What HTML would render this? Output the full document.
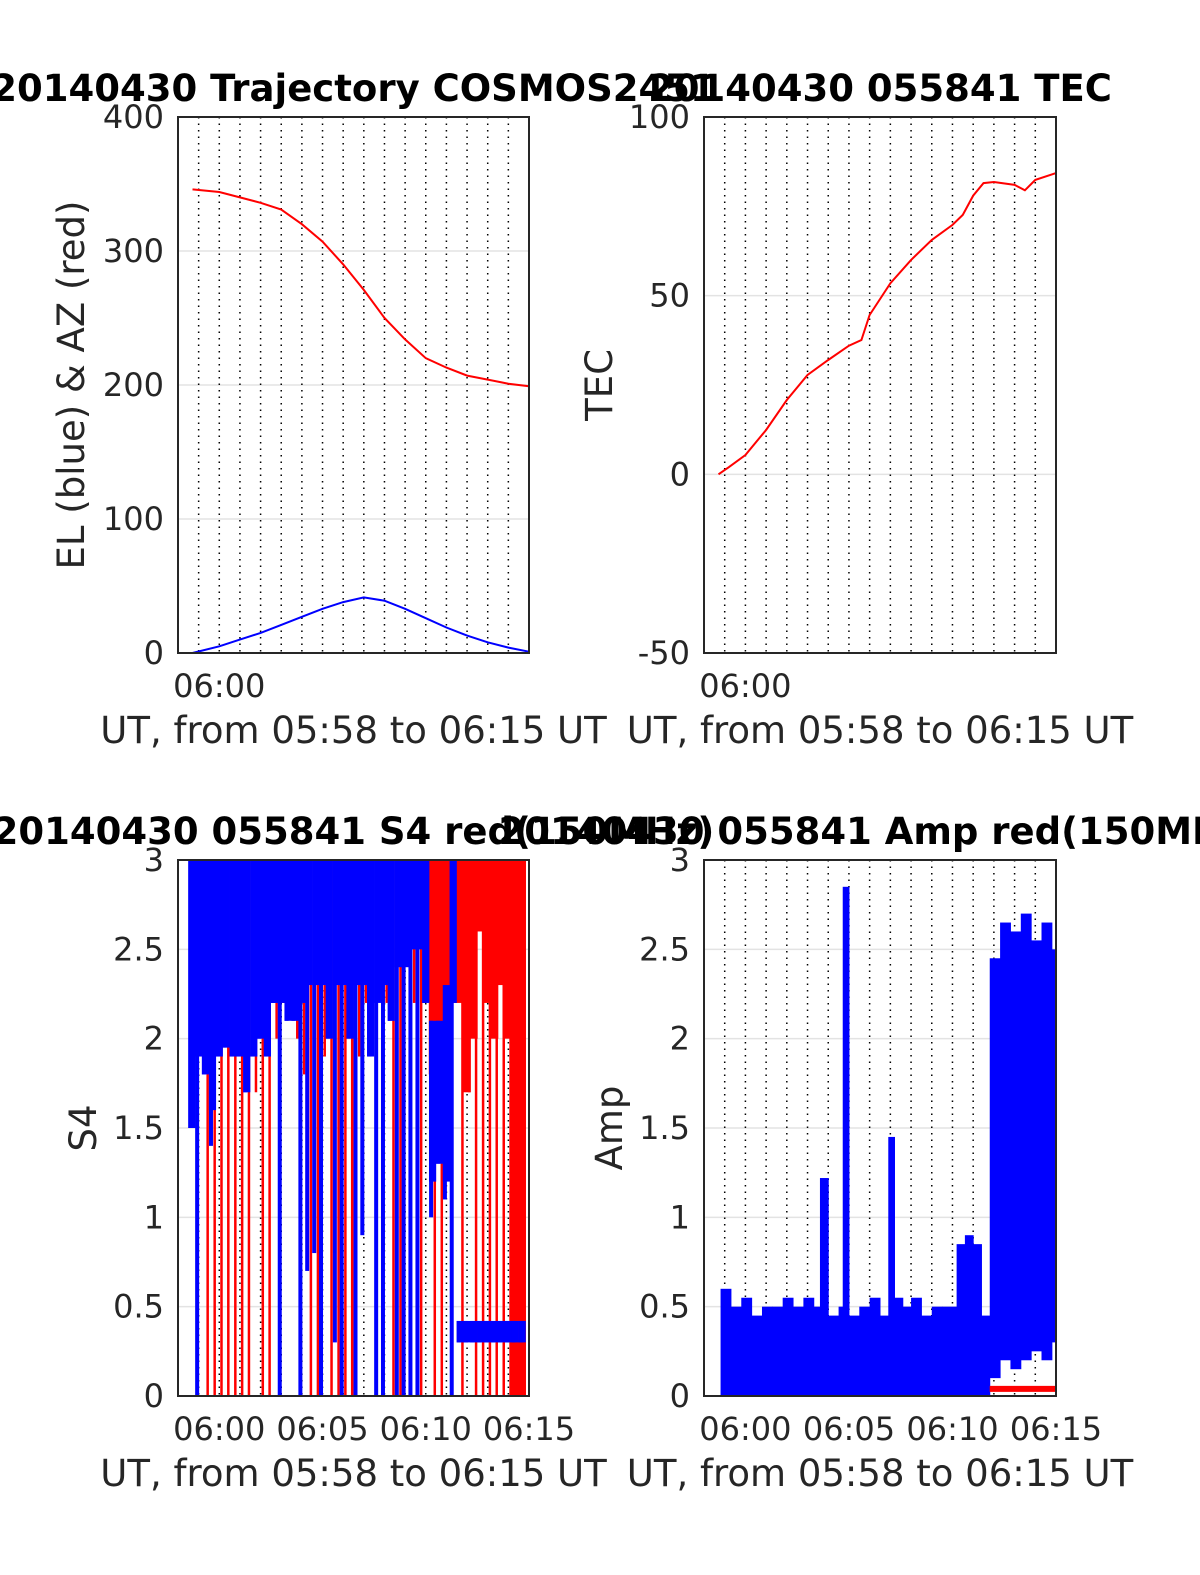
<!DOCTYPE html>
<html><head><meta charset="utf-8"><style>
html,body{margin:0;padding:0;background:#fff;}
svg{display:block;font-family:"DejaVu Sans","Liberation Sans",sans-serif;}
</style></head><body>
<svg id="fig" width="1200" height="1575" viewBox="0 0 1200 1575" xmlns="http://www.w3.org/2000/svg"></svg>
<script>
// ---- data (minutes since 05:58) ----
const trajT = [0.7,2,3,4,5,6,7,8,9,10,11,12,13,14,15,16,17];
const azVals = [346,344,340,336,331,320,307,290,271,250,234,220,213,207,204,201,199];
const elVals = [0,5,10,15,21,27,33,38,41.5,39,33,26,19,13,8,4,1];
const tecT = [0.7,1.2,2,3,4,5,6,7,7.6,8,9,10,11,12,12.5,13,13.5,14,15,15.5,16,17];
const tecVals = [0,2,5.4,12.4,20.8,27.8,32,36,37.6,44.6,53.5,60,65.6,69.8,72.6,78,81.5,81.8,81,79.5,82.4,84.3];
const s4T = [0.67,1,1.33,1.67,2,2.33,2.67,3,3.33,3.67,4,4.33,4.67,5,5.33,5.67,6,6.33,6.67,7,7.33,7.67,8,8.33,8.67,9,9.33,9.67,10,10.33,10.67,11,11.33,11.67,12,12.33,12.67,13,13.33,13.67,14,14.33,14.67,15,15.33,15.67,16,16.33,16.67];
const s4BlueLo = [1.5,0,1.8,1.4,1.9,1.95,1.9,1.9,1.7,1.9,2.0,1.9,2.2,0,2.1,2.1,0,0.7,0.8,0,2.0,0.3,0,2.0,0,0.9,1.9,0,0,2.1,0,0,0,0,2.2,1.0,1.3,1.1,0,0.3,0.3,0.3,0.3,0.3,0.3,0.3,0.3,0.3,0.3];
const s4BlueBandLo = [1.5,1.9,1.8,1.6,1.9,1.95,1.9,1.9,1.7,1.9,2.0,1.9,2.2,2.2,2.1,2.1,2.2,2.3,2.3,2.3,2.0,2.3,2.3,2.0,2.3,2.3,1.9,2.2,2.3,2.1,2.4,2.4,2.5,2.5,2.2,1.2,1.3,1.2,2.2,0.3,0.3,0.3,0.3,0.3,0.3,0.3,0.3,0.3,0.3];
const s4BlueHi = [3,3,3,3,3,3,3,3,3,3,3,3,3,3,3,3,3,3,3,3,3,3,3,3,3,3,3,3,3,3,3,3,3,3,3,2.1,2.1,2.3,3,0.42,0.42,0.42,0.42,0.42,0.42,0.42,0.42,0.42,0.42];
const s4RedLo = [2.5,2,0,0,0,0,0,0,0,1.7,0,0,2.0,2.2,2.4,2.0,1.8,0,0,1.9,0,0,0,0,1.9,2.2,2.0,2.3,2.2,0,0,2.5,2.2,0,2.5,0,0,1.8,2.2,0,1.7,0,0,0,0,0,0,0,0];
const s4RedBandLo = [3,3,3,3,3,3,3,3,3,3,3,3,3,3,3,3,3,3,3,3,3,3,3,3,3,3,3,3,3,3,3,3,3,3,3,1.8,1.8,1.8,2.2,2.2,1.7,2.0,2.6,2.2,2.0,2.3,2.0,0,0];
const ampT = [0.8,1.3,1.8,2.3,2.8,3.3,3.8,4.3,4.8,5.3,5.6,6.0,6.5,6.7,7.0,7.5,8.0,8.5,8.9,9.2,9.6,10.0,10.5,11.0,11.5,12.2,12.6,13.0,13.4,13.8,14.3,14.8,15.3,15.8,16.3,16.8];
const ampHi = [0.6,0.5,0.55,0.45,0.5,0.5,0.55,0.5,0.55,0.5,1.22,0.45,0.5,2.85,0.45,0.5,0.55,0.45,1.45,0.55,0.5,0.55,0.45,0.5,0.5,0.85,0.9,0.85,0.45,2.45,2.65,2.6,2.7,2.55,2.65,2.5];
const ampLo = [0,0,0,0,0,0,0,0,0,0,0,0,0,0,0,0,0,0,0,0,0,0,0,0,0,0,0,0,0,0.1,0.2,0.15,0.2,0.25,0.2,0.3];
const ampRedT = [13.8,17];
const ampRedVals = [0.04,0.04];
const timeTicks = [2,7,12,17];
const timeTickLabels = ["06:00","06:05","06:10","06:15"];

const NS="http://www.w3.org/2000/svg";
const svg=document.getElementById('fig');
function mk(tag,parent,attrs){const e=document.createElementNS(NS,tag);for(const k in attrs)e.setAttribute(k,attrs[k]);parent.appendChild(e);return e;}

function axes(name,x0,y0,x1,y1,ymin,ymax,yticks,ylabels,xticksShow,title,ylab){
  const g=mk('g',svg,{});
  
  
  const X=t=>x0+(t/17)*(x1-x0);
  const Y=v=>y1-(v-ymin)/(ymax-ymin)*(y1-y0);
  yticks.forEach((v,i)=>{
    const l=mk('line',g,{x1:x0,x2:x1,y1:Y(v),y2:Y(v),stroke:'#e3e3e3','stroke-width':1.5});
    
    
    const t=mk('text',g,{x:x0-14,y:Y(v)+11,'text-anchor':'end','font-size':32,fill:'#262626'});
    t.textContent=ylabels[i];
    
    
  });
  for(let m=1;m<17;m++){
    const l=mk('line',g,{x1:X(m),x2:X(m),y1:y0,y2:y1,stroke:'#000','stroke-width':1.5,'stroke-dasharray':'1.5,5'});
    
    
  }
  const ticksT=xticksShow?timeTicks:[2];
  ticksT.forEach((m,i)=>{
    const t=mk('text',g,{x:X(m),y:y1+44,'text-anchor':'middle','font-size':32,fill:'#262626'});
    t.textContent=timeTickLabels[i];
    
    
  });
  const xl=mk('text',g,{x:(x0+x1)/2,y:y1+90,'text-anchor':'middle','font-size':37,fill:'#262626'});
  xl.textContent='UT, from 05:58 to 06:15 UT';
  
  
  const yl=mk('text',g,{x:0,y:0,'text-anchor':'middle','font-size':37,fill:'#262626',transform:`translate(${ylab[1]},${ylab[2]}) rotate(-90)`});
  yl.textContent=ylab[0];
  
  
  const tt=mk('text',g,{x:(x0+x1)/2,y:y0-16,'text-anchor':'middle','font-size':37,'font-weight':'bold',fill:'#000'});
  tt.textContent=title;
  
  
  return {g,X,Y,frame:()=>{const r=mk('rect',g,{x:x0,y:y0,width:x1-x0,height:y1-y0,fill:'none',stroke:'#262626','stroke-width':2});
    }};
}
function line(ax,ts,vs,color,name,w){
  const d=ts.map((t,i)=>(i?'L':'M')+ax.X(t).toFixed(1)+','+ax.Y(vs[i]).toFixed(1)).join('');
  const p=mk('path',ax.g,{d,fill:'none',stroke:color,'stroke-width':w||2});
  
  
}
function bars(ax,ts,lo,hi,color,name,w,off){
  ts.forEach((t,i)=>{
    if(hi[i]<=lo[i])return;
    const r=mk('rect',ax.g,{x:ax.X(t)-w/2+(off||0),y:ax.Y(hi[i]),width:w,height:ax.Y(lo[i])-ax.Y(hi[i]),fill:color});
    
    
  });
}

// Plot 1
const a1=axes('trajectory-plot',178,117,529,653,0,400,[0,100,200,300,400],['0','100','200','300','400'],false,'20140430 Trajectory COSMOS2451',['EL (blue) & AZ (red)',84,385]);
line(a1,trajT,azVals,'#ff0000','azimuth-line');
line(a1,trajT,elVals,'#0000ff','elevation-line');
a1.frame();
// Plot 2
const a2=axes('tec-plot',704,117,1056,653,-50,100,[-50,0,50,100],['-50','0','50','100'],false,'20140430 055841 TEC',['TEC',612,385]);
line(a2,tecT,tecVals,'#ff0000','tec-line');
a2.frame();
// Plot 3
const a3=axes('s4-plot',178,860,529,1396,0,3,[0,0.5,1,1.5,2,2.5,3],['0','0.5','1','1.5','2','2.5','3'],true,'20140430 055841 S4 red(150MHz)',['S4',96,1128]);
const full3=s4T.map(()=>3);
bars(a3,s4T,s4RedBandLo,full3,'#ff0000','s4-red-band',7.6);
bars(a3,s4T,s4RedLo,full3,'#ff0000','s4-red-line',2.5,2.2);
bars(a3,s4T,s4BlueBandLo,s4BlueHi,'#0000ff','s4-blue-band',7.2);
bars(a3,s4T,s4BlueLo,s4BlueHi,'#0000ff','s4-blue-line',4,-1.5);
a3.frame();
// Plot 4
const a4=axes('amp-plot',704,860,1056,1396,0,3,[0,0.5,1,1.5,2,2.5,3],['0','0.5','1','1.5','2','2.5','3'],true,'20140430 055841 Amp red(150MHz)',['Amp',622,1128]);
ampT.forEach((t,i)=>{
  const t2=i<ampT.length-1?ampT[i+1]:17;
  const r=mk('rect',a4.g,{x:a4.X(t),y:a4.Y(ampHi[i]),width:a4.X(t2)-a4.X(t)+0.5,height:a4.Y(ampLo[i])-a4.Y(ampHi[i]),fill:'#0000ff'});
  
  
});
line(a4,ampRedT,ampRedVals,'#ff0000','amp-red-line',6);
a4.frame();
</script>
</body></html>
